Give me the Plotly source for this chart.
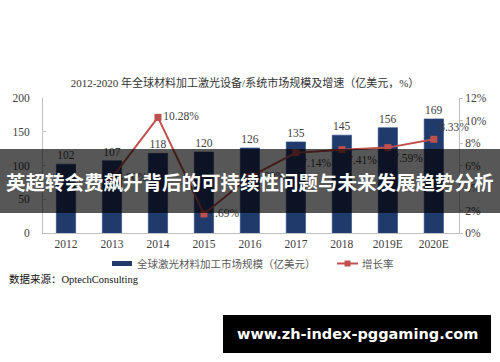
import plotly.graph_objects as go

years = ["2012", "2013", "2014", "2015", "2016", "2017", "2018", "2019E", "2020E"]
market = [102, 107, 118, 120, 126, 135, 145, 156, 169]
growth_years = ["2013", "2014", "2015", "2016", "2017", "2018", "2019E", "2020E"]
growth = [4.90, 10.28, 1.69, 5.00, 7.14, 7.41, 7.59, 8.33]
growth_pos = ["middle right", "middle right", "middle right", "middle right",
              "bottom right", "bottom right", "bottom right", "top right"]
left_ticks = [0, 50, 100, 150, 200]
right_ticks = [0, 2, 4, 6, 8, 10, 12]
right_labels = [f"{v}%" for v in right_ticks]

SERIF = "Liberation Serif, Noto Sans CJK SC, serif"
BAR_C = "#203A6C"
LINE_C = "#C0504D"
TXT = "#404040"

W, H = 500, 362
L, R, T, B = 43, 41, 98, 129
PW, PH = W - L - R, H - T - B


def px(x):
    return (x - L) / PW


def py(y):
    return (H - B - y) / PH


fig = go.Figure()
fig.add_trace(go.Bar(
    x=years, y=market, name="全球激光材料加工市场规模（亿美元）",
    marker=dict(color=BAR_C, line=dict(color="#2E4C86", width=0.6)),
    width=0.42,
    text=[str(v) for v in market], textposition="outside",
    textfont=dict(family=SERIF, size=11.5, color=TXT),
    cliponaxis=False, showlegend=False,
))
fig.add_trace(go.Scatter(
    x=growth_years, y=growth, yaxis="y2", name="增长率",
    mode="lines+markers+text",
    line=dict(color=LINE_C, width=2),
    marker=dict(symbol="square", size=7, color=LINE_C),
    text=[f"{v:.2f}%" for v in growth], textposition=growth_pos,
    textfont=dict(family=SERIF, size=11.5, color=TXT),
    cliponaxis=False, showlegend=False,
))

fig.update_layout(
    width=W, height=H,
    margin=dict(l=L, r=R, t=T, b=B),
    paper_bgcolor="white", plot_bgcolor="white",
    title=dict(
        text="2012-2020 年全球材料加工激光设备/系统市场规模及增速（亿美元，%）",
        x=245 / W, xanchor="center", y=1 - 83 / H, yanchor="middle",
        font=dict(family=SERIF, size=11, color="#333333"),
    ),
    xaxis=dict(
        type="category", showline=True, linecolor="#BFBFBF", linewidth=1,
        ticks="", showgrid=False,
        tickfont=dict(family=SERIF, size=11.5, color=TXT),
    ),
    yaxis=dict(
        range=[0, 200], tickvals=left_ticks, showline=True, linecolor="#BFBFBF",
        linewidth=1, ticks="inside", ticklen=3, tickcolor="#BFBFBF",
        showgrid=False, zeroline=False, ticklabelstandoff=10,
        tickfont=dict(family=SERIF, size=11.5, color=TXT),
    ),
    yaxis2=dict(
        range=[0, 12], tickmode="array", tickvals=right_ticks, ticktext=right_labels,
        overlaying="y", side="right", showline=True, linecolor="#BFBFBF", linewidth=1,
        ticks="outside", ticklen=3, tickcolor="#BFBFBF",
        showgrid=False, zeroline=False,
        tickfont=dict(family=SERIF, size=11.5, color=TXT),
    ),
)

# manual legend
fig.add_shape(type="rect", xref="paper", yref="paper",
              x0=px(112), x1=px(132), y0=py(266), y1=py(261),
              fillcolor=BAR_C, line=dict(width=0))
fig.add_annotation(xref="paper", yref="paper", x=px(135), y=py(263.5),
                   xanchor="left", yanchor="middle", showarrow=False,
                   text="全球激光材料加工市场规模（亿美元）",
                   font=dict(family=SERIF, size=10.5, color="#595959"))
fig.add_shape(type="line", xref="paper", yref="paper",
              x0=px(337), x1=px(358), y0=py(263.5), y1=py(263.5),
              line=dict(color=LINE_C, width=2))
fig.add_shape(type="rect", xref="paper", yref="paper",
              x0=px(344.5), x1=px(350.5), y0=py(266.5), y1=py(260.5),
              fillcolor=LINE_C, line=dict(width=0))
fig.add_annotation(xref="paper", yref="paper", x=px(360), y=py(263.5),
                   xanchor="left", yanchor="middle", showarrow=False,
                   text="增长率",
                   font=dict(family=SERIF, size=10.5, color="#595959"))

# source
fig.add_annotation(xref="paper", yref="paper", x=px(7), y=py(279),
                   xanchor="left", yanchor="middle", showarrow=False,
                   text="数据来源：OptechConsulting",
                   font=dict(family=SERIF, size=10.5, color="#111111"))

# overlay band
fig.add_shape(type="rect", xref="paper", yref="paper", layer="above",
              x0=px(0), x1=px(W), y0=py(213), y1=py(149),
              fillcolor="rgba(0,0,0,0.66)", line=dict(width=0))
fig.add_annotation(xref="paper", yref="paper", x=px(250), y=py(181),
                   xanchor="center", yanchor="middle", showarrow=False,
                   text="<b>英超转会费飙升背后的可持续性问题与未来发展趋势分析</b>",
                   font=dict(family="Noto Sans CJK SC", size=19.5, color="white"))

# watermark box
fig.add_shape(type="rect", xref="paper", yref="paper", layer="above",
              x0=px(223), x1=px(491), y0=py(353), y1=py(315),
              fillcolor="black", line=dict(width=0))
fig.add_annotation(xref="paper", yref="paper", x=px(357), y=py(334),
                   xanchor="center", yanchor="middle", showarrow=False,
                   text="<b>www.zh-index-pggaming.com</b>",
                   font=dict(family="DejaVu Sans", size=14.5, color="white"))

fig.write_html("out.html")
